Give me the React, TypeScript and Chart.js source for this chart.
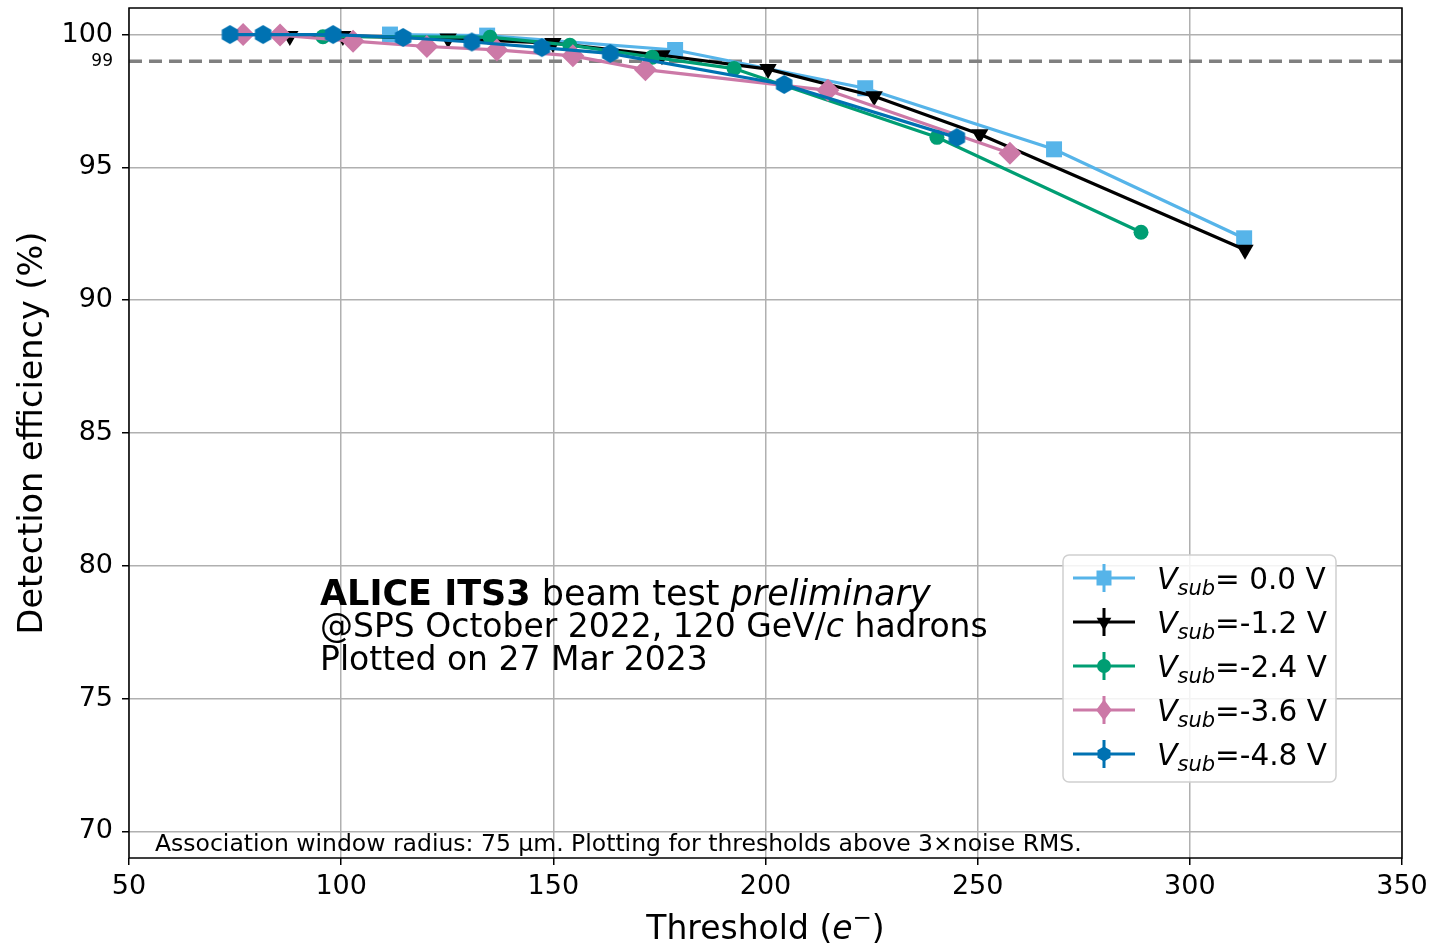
import React, { useEffect, useRef } from 'react';
import { Chart, registerables } from 'chart.js';

Chart.register(...registerables);

const FONT = "'DejaVu Sans', sans-serif";

const xTicks = [50, 100, 150, 200, 250, 300, 350];
const yTicks = [70, 75, 80, 85, 90, 95, 99, 100];
const yMin = 69;
const yMax = 101;
const refLine = 99;

const voltages = [0.0, -1.2, -2.4, -3.6, -4.8];
const colors = ['#56B4E9', '#000000', '#009E73', '#CC79A7', '#0072B2'];
const markers = ['square', 'triangleDown', 'circle', 'diamond', 'hexagon'];

const thr00 = [111.5, 134.4, 178.7, 223.5, 268.0, 312.8];
const eff00 = [100.0, 99.96, 99.42, 97.98, 95.68, 92.33];
const thr12 = [87.9, 100.4, 125.2, 149.9, 175.6, 200.6, 225.6, 250.5, 313.0];
const eff12 = [99.95, 99.95, 99.85, 99.68, 99.22, 98.7, 97.68, 96.25, 91.9];
const thr24 = [95.7, 135.1, 153.9, 173.3, 192.6, 240.4, 288.5];
const eff24 = [99.92, 99.9, 99.6, 99.15, 98.72, 96.13, 92.56];
const thr36 = [76.9, 85.6, 102.8, 120.2, 136.7, 154.6, 171.7, 214.7, 257.6];
const eff36 = [100.0, 99.98, 99.75, 99.55, 99.42, 99.2, 98.68, 97.9, 95.53];
const thr48 = [73.8, 81.6, 98.1, 114.6, 130.8, 147.3, 163.4, 204.4, 245.1];
const eff48 = [100.0, 100.0, 100.0, 99.89, 99.72, 99.51, 99.29, 98.12, 96.12];

const thresholds = [thr00, thr12, thr24, thr36, thr48];
const efficiencies = [eff00, eff12, eff24, eff36, eff48];

const xTitle = ['Threshold (', 'e', '−', ')'];
const yTitle = 'Detection efficiency (%)';
const noteText = 'Association window radius: 75 µm. Plotting for thresholds above 3×noise RMS.';

function hexagonCanvas(r: number, color: string) {
  const c = document.createElement('canvas');
  const s = Math.ceil(r * 2 + 2);
  c.width = s;
  c.height = s;
  const ctx = c.getContext('2d')!;
  ctx.beginPath();
  for (let i = 0; i < 6; i++) {
    const a = -Math.PI / 2 + (i * Math.PI) / 3;
    const px = s / 2 + r * Math.cos(a);
    const py = s / 2 + r * Math.sin(a);
    if (i === 0) ctx.moveTo(px, py);
    else ctx.lineTo(px, py);
  }
  ctx.closePath();
  ctx.fillStyle = color;
  ctx.fill();
  return c;
}

function drawMarker(ctx: CanvasRenderingContext2D, kind: string, x: number, y: number, color: string) {
  ctx.save();
  ctx.fillStyle = color;
  ctx.beginPath();
  if (kind === 'square') {
    ctx.rect(x - 7.5, y - 7.5, 15, 15);
  } else if (kind === 'triangleDown') {
    const r = 8.5;
    ctx.moveTo(x, y + r);
    ctx.lineTo(x - r * 0.866, y - r * 0.5);
    ctx.lineTo(x + r * 0.866, y - r * 0.5);
    ctx.closePath();
  } else if (kind === 'circle') {
    ctx.arc(x, y, 7, 0, Math.PI * 2);
  } else if (kind === 'diamond') {
    const r = 10.5;
    ctx.moveTo(x, y - r);
    ctx.lineTo(x + r * 0.75, y);
    ctx.lineTo(x, y + r);
    ctx.lineTo(x - r * 0.75, y);
    ctx.closePath();
  } else {
    const r = 7.5;
    for (let i = 0; i < 6; i++) {
      const a = -Math.PI / 2 + (i * Math.PI) / 3;
      const px = x + r * Math.cos(a);
      const py = y + r * Math.sin(a);
      if (i === 0) ctx.moveTo(px, py);
      else ctx.lineTo(px, py);
    }
    ctx.closePath();
  }
  ctx.fill();
  ctx.restore();
}

const overlayPlugin = {
  id: 'overlay',
  afterDraw(chart: any) {
    const ctx: CanvasRenderingContext2D = chart.ctx;
    const ca = chart.chartArea;
    ctx.save();

    // spines
    ctx.strokeStyle = '#000';
    ctx.lineWidth = 1.5;
    ctx.strokeRect(ca.left, ca.top, ca.right - ca.left, ca.bottom - ca.top);

    // annotation
    ctx.fillStyle = '#000';
    ctx.textBaseline = 'alphabetic';
    ctx.textAlign = 'left';
    const ax = ca.left + 191;
    let ay = ca.top + 597;
    ctx.font = `bold 35px ${FONT}`;
    ctx.fillText('ALICE ITS3', ax, ay);
    let w = ctx.measureText('ALICE ITS3').width;
    ctx.font = `35px ${FONT}`;
    w += ctx.measureText(' ').width;
    ctx.fillText('beam test ', ax + w, ay);
    w += ctx.measureText('beam test ').width;
    ctx.font = `italic 35px ${FONT}`;
    ctx.fillText('preliminary', ax + w, ay);
    ay += 32;
    ctx.font = `33px ${FONT}`;
    const p1 = '@SPS October 2022, 120 GeV/';
    ctx.fillText(p1, ax, ay);
    w = ctx.measureText(p1).width;
    ctx.font = `italic 33px ${FONT}`;
    ctx.fillText('c', ax + w, ay);
    w += ctx.measureText('c').width;
    ctx.font = `33px ${FONT}`;
    ctx.fillText(' hadrons', ax + w, ay);
    ay += 33;
    ctx.fillText('Plotted on 27 Mar 2023', ax, ay);

    // bottom note
    ctx.font = `23.5px ${FONT}`;
    ctx.fillText(noteText, ca.left + 26, ca.bottom - 7);

    // x title
    ctx.font = `33px ${FONT}`;
    const t0w = ctx.measureText(xTitle[0]).width;
    const t3w = ctx.measureText(xTitle[3]).width;
    ctx.font = `italic 33px ${FONT}`;
    const t1w = ctx.measureText(xTitle[1]).width;
    ctx.font = `23px ${FONT}`;
    const t2w = ctx.measureText(xTitle[2]).width;
    const total = t0w + t1w + t2w + t3w;
    let tx = (ca.left + ca.right) / 2 - total / 2;
    const ty = 939;
    ctx.font = `33px ${FONT}`;
    ctx.fillText(xTitle[0], tx, ty);
    tx += t0w;
    ctx.font = `italic 33px ${FONT}`;
    ctx.fillText(xTitle[1], tx, ty);
    tx += t1w;
    ctx.font = `23px ${FONT}`;
    ctx.fillText(xTitle[2], tx, ty - 14);
    tx += t2w;
    ctx.font = `33px ${FONT}`;
    ctx.fillText(xTitle[3], tx, ty);

    // y title
    ctx.save();
    ctx.translate(42, (ca.top + ca.bottom) / 2);
    ctx.rotate(-Math.PI / 2);
    ctx.textAlign = 'center';
    ctx.font = `33.5px ${FONT}`;
    ctx.fillText(yTitle, 0, 0);
    ctx.restore();

    // legend
    const bx = ca.right - 339;
    const by = ca.bottom - 303;
    const bw = 273;
    const bh = 227;
    ctx.beginPath();
    (ctx as any).roundRect(bx, by, bw, bh, 6);
    ctx.fillStyle = 'rgba(255,255,255,0.85)';
    ctx.fill();
    ctx.strokeStyle = '#d0d0d0';
    ctx.lineWidth = 1.5;
    ctx.stroke();
    voltages.forEach((v, i) => {
      const cy = by + 23 + i * 44;
      const col = colors[i];
      ctx.strokeStyle = col;
      ctx.lineWidth = 3;
      ctx.beginPath();
      ctx.moveTo(bx + 10, cy);
      ctx.lineTo(bx + 72, cy);
      ctx.moveTo(bx + 41, cy - 14);
      ctx.lineTo(bx + 41, cy + 14);
      ctx.stroke();
      drawMarker(ctx, markers[i], bx + 41, cy, col);
      ctx.fillStyle = '#000';
      let lx = bx + 94;
      const base = cy + 11;
      ctx.font = `italic 30px ${FONT}`;
      ctx.fillText('V', lx, base);
      lx += ctx.measureText('V').width;
      ctx.font = `italic 21px ${FONT}`;
      ctx.fillText('sub', lx, base + 6);
      lx += ctx.measureText('sub').width;
      ctx.font = `29.5px ${FONT}`;
      const s = v >= 0 ? '= ' + v.toFixed(1) + ' V' : '=' + v.toFixed(1) + ' V';
      ctx.fillText(s, lx, base);
    });

    ctx.restore();
  },
};

export default function App() {
  const ref = useRef<HTMLCanvasElement | null>(null);

  useEffect(() => {
    const canvas = ref.current!;
    const hex = hexagonCanvas(9.5, colors[4]);
    const pointStyles: any[] = ['rect', 'triangle', 'circle', 'rectRot', hex];
    const radii = [11.3, 10, 7.5, 11.5, 9.5];
    const rotations = [0, 180, 0, 0, 0];
    const orders = [5, 4, 3, 2, 1];

    const datasets: any[] = [
      {
        label: 'ref',
        data: [
          { x: xTicks[0], y: refLine },
          { x: xTicks[xTicks.length - 1], y: refLine },
        ],
        borderColor: '#808080',
        borderDash: [13, 7],
        borderWidth: 3.5,
        pointRadius: 0,
        order: 10,
      },
    ];
    voltages.forEach((v, i) => {
      datasets.push({
        label: 'V=' + v,
        data: thresholds[i].map((x, j) => ({ x, y: efficiencies[i][j] })),
        borderColor: colors[i],
        backgroundColor: colors[i],
        borderWidth: 3.2,
        pointStyle: pointStyles[i],
        pointRadius: radii[i],
        pointRotation: rotations[i],
        pointBorderWidth: 0,
        pointBackgroundColor: colors[i],
        tension: 0,
        order: orders[i],
      });
    });

    const chart = new Chart(canvas, {
      type: 'line',
      data: { datasets },
      options: {
        responsive: false,
        animation: false,
        devicePixelRatio: 1,
        layout: { autoPadding: false, padding: { left: 8, top: 8, right: 29, bottom: 0 } },
        plugins: { legend: { display: false }, tooltip: { enabled: false } },
        scales: {
          x: {
            type: 'linear',
            min: xTicks[0],
            max: xTicks[xTicks.length - 1],
            afterBuildTicks: (s: any) => {
              s.ticks = xTicks.map((v) => ({ value: v }));
            },
            afterFit: (s: any) => {
              s.height = 86;
              s.paddingLeft = 0;
              s.paddingRight = 0;
            },
            border: { display: false },
            grid: { color: '#b0b0b0', lineWidth: 1.5, tickColor: '#000', tickLength: 7, tickWidth: 1.5 },
            ticks: { color: '#000', font: { family: FONT, size: 27 }, padding: 6, maxRotation: 0, autoSkip: false },
          },
          y: {
            type: 'linear',
            min: yMin,
            max: yMax,
            afterBuildTicks: (s: any) => {
              s.ticks = yTicks.map((v) => ({ value: v }));
            },
            afterFit: (s: any) => {
              s.width = 121;
              s.paddingTop = 0;
              s.paddingBottom = 0;
            },
            border: { display: false },
            grid: {
              color: (c: any) => (c.tick && c.tick.value === refLine ? 'rgba(0,0,0,0)' : '#b0b0b0'),
              lineWidth: 1.5,
              tickColor: (c: any) => (c.tick && c.tick.value === refLine ? 'rgba(0,0,0,0)' : '#000'),
              tickLength: 7,
              tickWidth: 1.5,
            },
            ticks: {
              color: '#000',
              autoSkip: false,
              padding: 9,
              font: (c: any) => ({ family: FONT, size: c.tick && c.tick.value === refLine ? 17 : 27 }),
            },
          },
        },
      },
      plugins: [overlayPlugin],
    });
    return () => chart.destroy();
  }, []);

  return (
    <div style={{ position: 'absolute', left: 0, top: 0, width: 1431, height: 944, background: '#fff' }}>
      <canvas ref={ref} width={1431} height={944} />
    </div>
  );
}
